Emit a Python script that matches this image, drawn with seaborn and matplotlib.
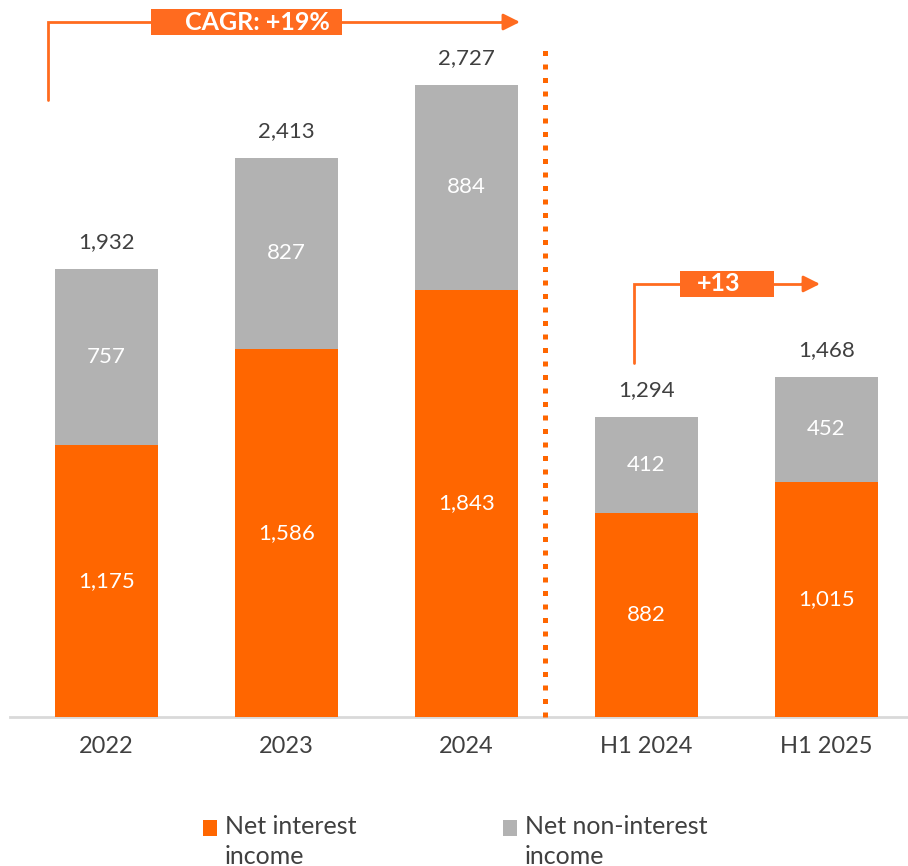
import matplotlib
matplotlib.use("Agg")
import matplotlib.pyplot as plt
from matplotlib.patches import Rectangle
import pandas as pd
import seaborn as sns

periods = ["2022", "2023", "2024", "H1 2024", "H1 2025"]
net_interest = [1175, 1586, 1843, 882, 1015]
net_non_interest = [757, 827, 884, 412, 452]
totals = [1932, 2413, 2727, 1294, 1468]
legend_labels = ["Net interest\nincome", "Net non-interest\nincome"]
cagr_text = "CAGR: +19%"
h1_growth_text = "+13"

ORANGE = "#FF6600"
ACCENT = "#FF6B1F"
GREY = "#B2B2B2"
TEXT = "#404040"

sns.set_style("white")
plt.rcParams["font.family"] = ["Lato", "DejaVu Sans"]

data = pd.DataFrame({"period": periods, "nii": net_interest, "nonii": net_non_interest})
data["stack"] = data["nii"] + data["nonii"]

fig = plt.figure(figsize=(9.08, 8.66), dpi=100)
ax = fig.add_axes([10 / 908, 149 / 866, 898 / 908, 717 / 866])

sns.barplot(data=data, x="period", y="stack", color=GREY, width=0.575,
            saturation=1, linewidth=0, ax=ax, zorder=2)
sns.barplot(data=data, x="period", y="nii", color=ORANGE, width=0.575,
            saturation=1, linewidth=0, ax=ax, zorder=3)

ax.set_xlim(-0.536, 4.453)
ax.set_ylim(0, 3093)
ax.set_xlabel("")
ax.set_ylabel("")
ax.set_yticks([])
for s in ["top", "right", "left"]:
    ax.spines[s].set_visible(False)
ax.spines["bottom"].set_color("#D9D9D9")
ax.spines["bottom"].set_linewidth(2)
ax.tick_params(axis="x", length=0, pad=14, labelsize=17, labelcolor=TEXT)

# value labels
for i in range(len(periods)):
    nii = net_interest[i]
    non = net_non_interest[i]
    ax.text(i, nii / 2, f"{nii:,}", ha="center", va="center", color="white",
            fontsize=16, zorder=5)
    ax.text(i, nii + non / 2, f"{non:,}", ha="center", va="center", color="white",
            fontsize=16, zorder=5)
    ax.text(i, nii + non + 115, f"{totals[i]:,}", ha="center", va="center",
            color=TEXT, fontsize=16, zorder=5)

# separator between full years and half years
ax.plot([2.436, 2.436], [0, 2899], color=ORANGE, lw=3.6,
        linestyle=(0, (1, 1.7)), solid_capstyle="butt", dash_capstyle="butt",
        clip_on=False, zorder=4)

def growth_arrow(x0, y0, y1, x1, box_x, box_w, text_x, label):
    ax.plot([x0, x0, x1 - 0.08], [y0, y1, y1], color=ACCENT, lw=2,
            clip_on=False, zorder=4, solid_joinstyle="miter")
    ax.annotate("", xy=(x1, y1), xytext=(x1 - 0.1, y1),
                arrowprops=dict(arrowstyle="-|>,head_length=1.0,head_width=0.5",
                                color=ACCENT, lw=2, shrinkA=0, shrinkB=0),
                annotation_clip=False)
    ax.add_patch(Rectangle((box_x - box_w / 2, y1 - 58), box_w, 116,
                           facecolor=ACCENT, edgecolor="none", clip_on=False, zorder=5))
    ax.text(text_x, y1, label, ha="center", va="center", color="white",
            fontsize=18, fontweight="bold", zorder=6)

growth_arrow(-0.325, 2662, 2998, 2.297, 0.778, 1.061, 0.836, cagr_text)
growth_arrow(2.93, 1527, 1868, 3.964, 3.447, 0.522, 3.40, h1_growth_text)

# legend
for j, (lab, col) in enumerate(zip(legend_labels, [ORANGE, GREY])):
    x = (203 + 300 * j) / 908
    fig.patches.append(Rectangle((x, (866 - 836) / 866), 14 / 908, 16 / 866,
                                 facecolor=col, edgecolor="none",
                                 transform=fig.transFigure, figure=fig))
    fig.text(x + 22 / 908, (866 - 815) / 866, lab, ha="left", va="top",
             color=TEXT, fontsize=18, linespacing=1.35)

fig.savefig("out.png", dpi=100)
